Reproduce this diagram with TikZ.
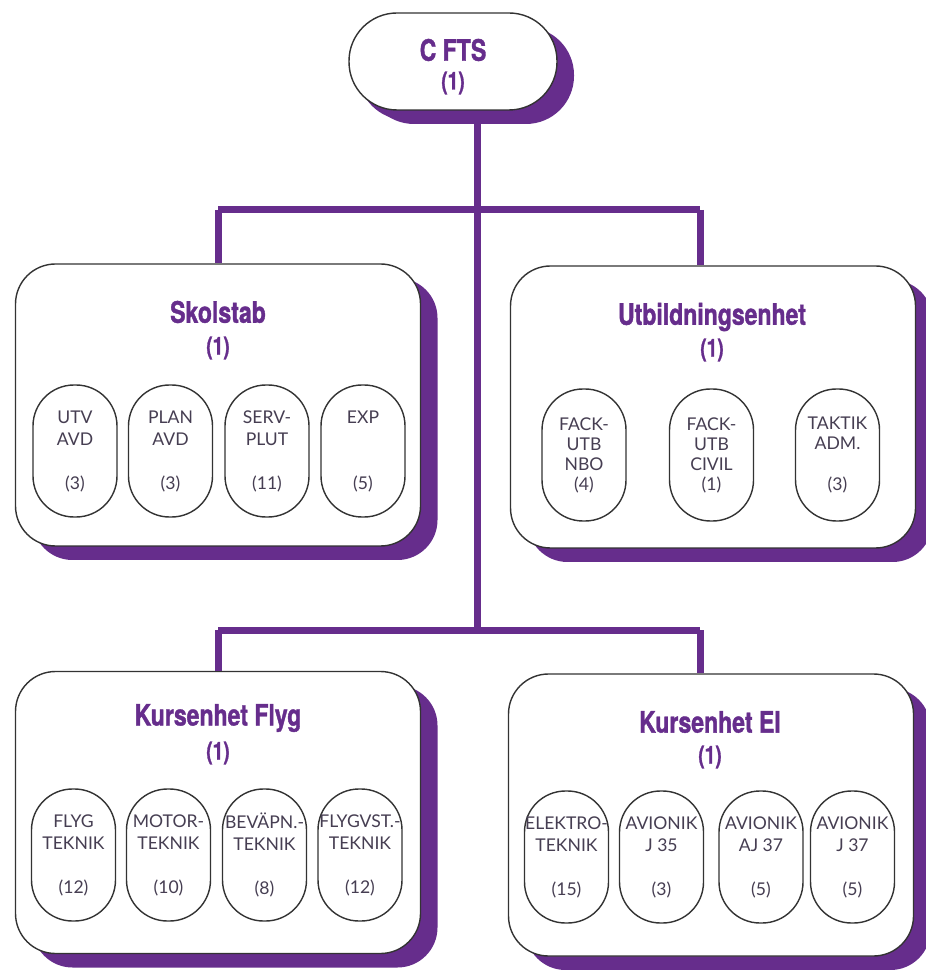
\documentclass[tikz,border=0pt]{standalone}
\usepackage{fontspec}
\setmainfont{Lato}
\newfontfamily\headfont[FakeStretch=0.78, FakeBold=1.2]{TeX Gyre Heros}
\usetikzlibrary{shadows}
\definecolor{ftspurple}{RGB}{102,45,140}
\definecolor{ftstext}{RGB}{70,62,82}

\begin{document}
\begin{tikzpicture}[x=0.1mm, y=-0.1mm,
  link/.style={line width=0.7mm, ftspurple},
  unit/.style={draw=black!80, fill=white, rounded corners=4mm,
               minimum width=40.5mm, minimum height=28.2mm,
               drop shadow={fill=ftspurple, opacity=1, shadow xshift=1.7mm, shadow yshift=-1.4mm}},
  head/.style={font=\headfont\bfseries\fontsize{8.4}{9}\selectfont, text=ftspurple},
  count/.style={font=\headfont\bfseries\fontsize{7}{8}\selectfont, text=ftspurple},
  pill/.style={draw=black!80, fill=white, rounded corners=4.1mm, minimum width=8.4mm,
               minimum height=13.2mm, inner sep=0pt, align=center, text=ftstext,
               font=\fontsize{5}{6.26}\selectfont}]
  \useasboundingbox (0,0) rectangle (925,970);

  % Top: C FTS
  \node[unit, rounded corners=4.8mm, minimum width=20.8mm, minimum height=9.7mm,
        drop shadow={fill=ftspurple, opacity=1, shadow xshift=0.9mm, shadow yshift=-1mm}]
    (cfts) at (453,61.5) {};
  \node[head] (cftshead) at (453,50) {C FTS};
  \node[count] (cftscount) at (453,83) {(1)};

  % Skolstab
  \node[unit] (skol) at (218,405) {};
  \node[head] (skolhead) at (218,312) {Skolstab};
  \node[count] (skolcount) at (218,348) {(1)};
  \node[pill] (utv) at (75,451) {UTV\\AVD\\~\\(3)};
  \node[pill] (plan) at (170.5,451) {PLAN\\AVD\\~\\(3)};
  \node[pill] (serv) at (267,451) {SERV-\\PLUT\\~\\(11)};
  \node[pill] (exp) at (363,451) {EXP\\~\\~\\(5)};

  % Utbildningsenhet
  \node[unit] (utb) at (713,407) {};
  \node[head] (utbhead) at (712,317) {Utbildningsenhet};
  \node[count] (utbcount) at (712,350) {(1)};
  \node[pill, font=\fontsize{5}{5.7}\selectfont] (nbo) at (584,455) {FACK-\\UTB\\NBO\\(4)};
  \node[pill, font=\fontsize{5}{5.7}\selectfont] (civil) at (711.5,455) {FACK-\\UTB\\CIVIL\\(1)};
  \node[pill, font=\fontsize{5}{5.7}\selectfont] (taktik) at (837.5,455) {TAKTIK\\ADM.\\~\\(3)};

  % Kursenhet Flyg
  \node[unit] (flyg) at (218,812.5) {};
  \node[head] (flyghead) at (218,718) {Kursenhet Flyg};
  \node[count] (flygcount) at (218,753) {(1)};
  \node[pill] (flygtek) at (73.5,855) {FLYG\\TEKNIK\\~\\(12)};
  \node[pill] (motor) at (168.5,855) {MOTOR-\\TEKNIK\\~\\(10)};
  \node[pill] (bevapn) at (264.5,855) {BEVÄPN.-\\TEKNIK\\~\\(8)};
  \node[pill] (flygvst) at (360,855) {FLYGVST.-\\TEKNIK\\~\\(12)};

  % Kursenhet El
  \node[unit] (el) at (711,815) {};
  \node[head] (elhead) at (710,722) {Kursenhet El};
  \node[count] (elcount) at (710,757) {(1)};
  \node[pill] (elektro) at (566.5,857) {ELEKTRO-\\TEKNIK\\~\\(15)};
  \node[pill] (jtf) at (661.5,857) {AVIONIK\\J 35\\~\\(3)};
  \node[pill] (ajts) at (761,857) {AVIONIK\\AJ 37\\~\\(5)};
  \node[pill] (jts) at (852.5,857) {AVIONIK\\J 37\\~\\(5)};

  % Junctions
  \coordinate (jmid1) at (477,210);
  \coordinate (jmid2) at (477,630);
  \coordinate (jleft1) at (218,210);
  \coordinate (jright1) at (700,210);
  \coordinate (jleft2) at (218,630);
  \coordinate (jright2) at (700,630);

  % Lines
  \draw[link] (jmid1 |- cfts.south) -- (jmid2);
  \draw[link] (jleft1) -- (jright1);
  \draw[link] (jleft2) -- (jright2);
  \draw[link] (jleft1) -- (skol.north);
  \draw[link] (jright1) -- (jright1 |- utb.north);
  \draw[link] (jleft2) -- (flyg.north);
  \draw[link] (jright2) -- (jright2 |- el.north);
\end{tikzpicture}
\end{document}
